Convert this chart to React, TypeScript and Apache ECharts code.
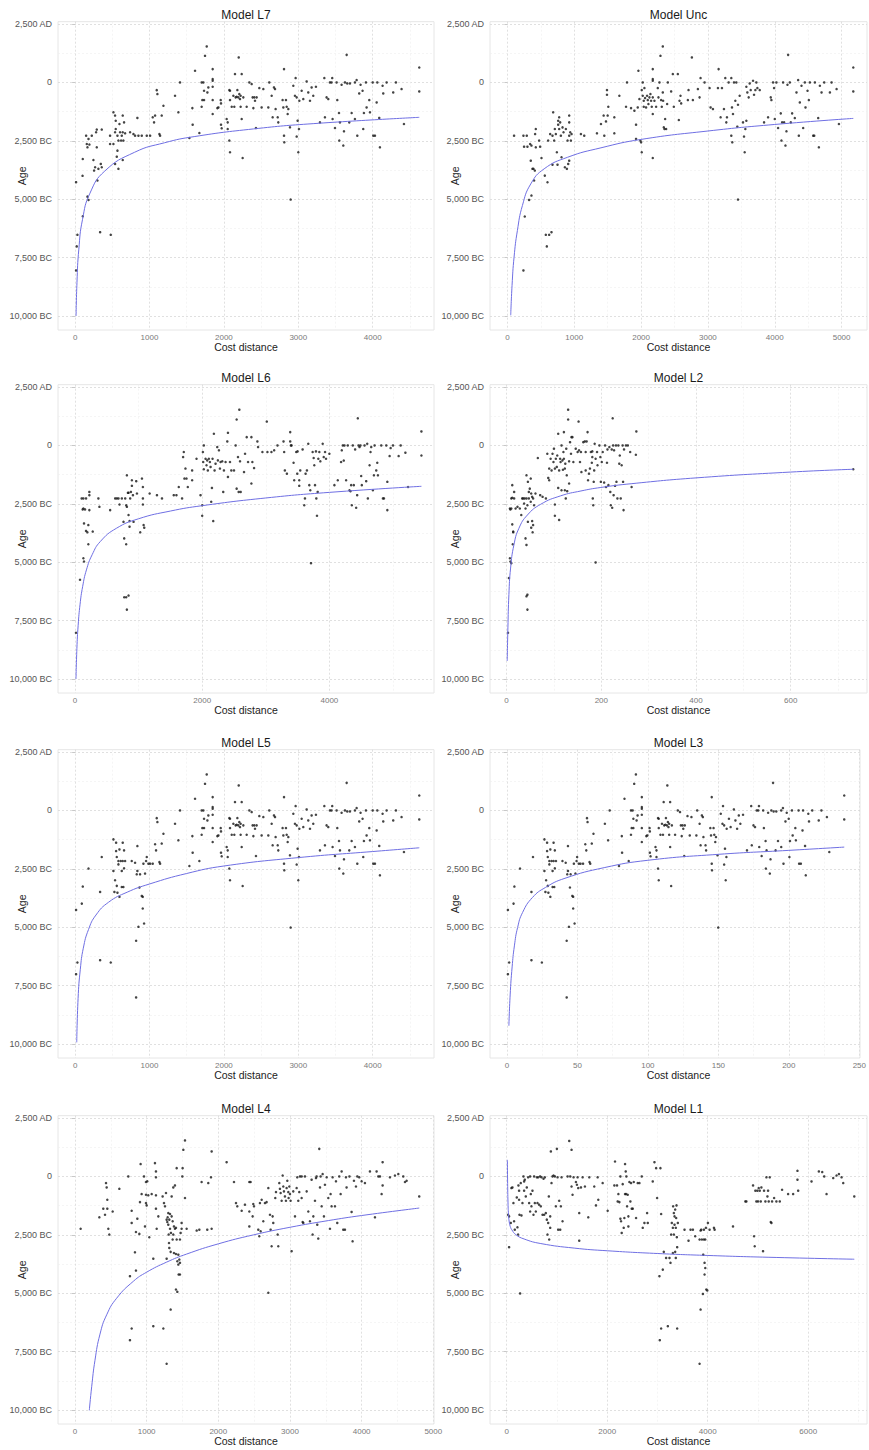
import React, { useEffect, useRef } from "react";
import * as echarts from "echarts";

// ---------- panel meta ----------
const titles = ["Model L7", "Model Unc", "Model L6", "Model L2", "Model L5", "Model L3", "Model L4", "Model L1"];
const xMins = [-230, -260, -267, -35, -230, -12, -237, -333];
const xMaxs = [4824, 5380, 5645, 761, 4824, 250.5, 5010, 7170];
const xTicks = [
  [0, 1000, 2000, 3000, 4000],
  [0, 1000, 2000, 3000, 4000, 5000],
  [0, 2000, 4000],
  [0, 200, 400, 600],
  [0, 1000, 2000, 3000, 4000],
  [0, 50, 100, 150, 200, 250],
  [0, 1000, 2000, 3000, 4000, 5000],
  [0, 2000, 4000, 6000],
];
const xMinorTicks = [
  [500, 1500, 2500, 3500, 4500],
  [500, 1500, 2500, 3500, 4500],
  [1000, 3000, 5000],
  [100, 300, 500, 700],
  [500, 1500, 2500, 3500, 4500],
  [25, 75, 125, 175, 225],
  [500, 1500, 2500, 3500, 4500],
  [1000, 3000, 5000, 7000],
];
const yTicks = [-10000, -7500, -5000, -2500, 0, 2500];
const yMinorTicks = [-8750, -6250, -3750, -1250, 1250];
const yMin = -10600;
const yMax = 2600;

// ---------- data: [cost distance, age (negative = BC)] ----------
const l7Left = [[13,-4270],[22,-7020],[31,-6525],[13,-8050],[103,-5730],[100,-4000],[103,-3280],[148,-2280],[157,-2635],[166,-2780],[180,-2420],[192,-2660],[166,-4890],[180,-5030],[224,-2280],[246,-3320],[255,-3775],[269,-3630],[282,-2135],[291,-2020],[291,-2780],[300,-4200],[313,-3700],[336,-6410],[345,-3490],[358,-2020],[358,-3630],[470,-2280],[470,-2635],[479,-6525],[515,-1280],[515,-2635],[537,-2135],[537,-1420],[546,-1640],[546,-1995],[537,-3490],[560,-3180],[569,-2280],[569,-2920],[582,-2490],[582,-3700],[596,-1780],[604,-2135],[618,-2490],[627,-2280],[640,-1420],[640,-2135],[649,-2490],[658,-1710],[672,-2180],[640,-3320],[739,-2135],[784,-2210],[806,-2280],[837,-1520],[851,-2280],[896,-2280],[963,-2280],[1008,-2280],[1043,-1495],[1061,-1710],[1075,-1420]];

const l5l7Shared = [[1097,-330],[1106,-500],[1133,-2210],[1142,-2280],[1164,-1420],[1187,-1000],[1343,-570],[1388,-1280],[1410,0],[1536,-2380],[1576,-1100],[1580,-1810],[1612,500],[1670,-2165],[1701,0],[1710,-755],[1701,-1040],[1724,0],[1733,-356],[1746,1140],[1733,-755],[1769,1540],[1778,-427],[1791,-214],[1849,570],[1849,142],[1849,71],[1849,-185],[1849,-755],[1849,-1353],[1912,-1100],[1926,-1070],[1957,-755],[1961,-1810],[1970,-1966],[1961,-897],[2037,-1567],[2051,-1710],[2051,-1995],[2073,-328],[2082,-356],[2073,-2490],[2082,-2990],[2082,-755],[2105,-1040],[2127,-570],[2140,-1040],[2149,356],[2158,-640],[2172,-612],[2181,-328],[2194,-640],[2199,1070],[2207,-500],[2216,-712],[2225,-570],[2225,-1040],[2239,356],[2239,-1567],[2252,-3235],[2261,-640],[2306,-1040],[2342,0],[2373,-71],[2386,-640],[2396,-1100],[2409,-640],[2418,-783],[2431,-1950],[2440,-640],[2476,-242],[2507,-1070],[2530,-285],[2597,-1070],[2610,0],[2642,-570],[2655,-1495],[2673,-214],[2687,-285],[2695,-1140],[2723,-1495],[2731,-1710],[2789,-755],[2808,570],[2799,-1070],[2808,-2280],[2812,-2565],[2834,-755],[2844,-1040],[2857,-1353],[2866,-1140],[2888,-1923],[2897,-5015],[2933,-142],[2964,185],[2955,-570],[2978,-640],[2978,-2320],[2991,-1638],[3000,-2990],[3009,-1995],[3014,-783],[3045,-356],[3067,-712],[3112,43],[3134,-427],[3157,-783],[3179,-214],[3201,-570],[3237,-185],[3291,-1710],[3350,185],[3358,-1495],[3380,-640],[3403,-712],[3425,0],[3447,0],[3456,185],[3461,-1567],[3493,-1950],[3515,0],[3524,-755],[3547,-1310],[3551,-2490],[3560,-1710],[3582,-100],[3605,-2705],[3614,-2095],[3627,0],[3650,1180],[3658,-43],[3685,-1710],[3694,-43],[3717,-1310],[3761,0],[3784,100],[3793,-2280],[3761,-1567],[3819,-470],[3837,-100],[3864,-356],[3873,-1995],[3882,-1310],[3909,0],[3918,-1070],[3954,-755],[3963,-1280],[4000,0],[4008,-2280],[4030,-2280],[4053,-855],[4062,0],[4088,-1520],[4097,-2780],[4133,-142],[4142,-470],[4187,0],[4276,-427],[4312,0],[4388,-285],[4420,-1780],[4626,640],[4626,-385]];

const l5Left = [[13,-4260],[31,-6510],[13,-7010],[90,-3990],[103,-3260],[180,-2490],[336,-3490],[336,-6410],[358,-1995],[479,-6510],[515,-2590],[515,-1240],[528,-3490],[537,-2990],[551,-1380],[551,-1740],[560,-1995],[560,-3230],[569,-3520],[582,-2310],[582,-2165],[596,-3700],[596,-1670],[613,-2165],[627,-2590],[627,-3280],[640,-1380],[640,-2165],[649,-3280],[658,-2480],[658,-1710],[672,-2165],[761,-2165],[806,-2240],[820,-5580],[828,-2735],[837,-2590],[837,-1525],[820,-8005],[851,-4985],[864,-3300],[873,-2735],[896,-3660],[909,-3700],[918,-2280],[909,-4200],[927,-4840],[940,-2705],[954,-2165],[963,-1995],[985,-2280],[1008,-2280],[1043,-2280],[1075,-1450],[1088,-1710]];

const uncPoints = [[100,-2280],[240,-2280],[250,-2750],[240,-8050],[260,-5740],[290,-2280],[300,-2750],[325,-5030],[340,-2635],[350,-3350],[360,-2705],[360,-4845],[375,-3700],[390,-3700],[400,-4200],[410,-3775],[425,-1995],[415,-2210],[425,-2780],[475,-2490],[490,-2750],[510,-3235],[560,-3990],[575,-6525],[590,-7020],[600,-4275],[610,-2490],[625,-6525],[640,-2210],[660,-6410],[675,-2280],[675,-3520],[685,-1280],[700,-2490],[710,-1995],[725,-2210],[740,-2990],[750,-3520],[760,-1640],[760,-1810],[775,-1495],[775,-1995],[790,-1710],[800,-2280],[810,-3205],[825,-1925],[840,-2135],[860,-3630],[875,-1995],[890,-3700],[900,-2490],[910,-3490],[925,-1420],[925,-1710],[925,-2280],[940,-2135],[950,-2490],[960,-2210],[925,-3350],[1100,-2210],[1150,-2280],[1340,-2180],[1400,-1780],[1440,-1420],[1450,-2280],[1475,-1670],[1490,-328],[1490,-527],[1500,-1420],[1510,-1040],[1600,-2180],[1600,-1495],[1675,-570],[1790,0],[1775,-1040],[1850,-1100],[1900,-1210],[1925,-1810],[1925,-2420],[1960,500],[1950,-1070],[1975,-712],[1990,-2490],[2000,-2565],[2010,-2990],[2010,-328],[2025,0],[2025,-570],[2040,-783],[2040,-1040],[2050,-242],[2060,-670],[2075,-1070],[2090,-570],[2100,-755],[2110,-925],[2125,-640],[2140,-500],[2150,-783],[2160,-1040],[2175,570],[2175,142],[2175,71],[2175,-640],[2175,-1353],[2175,-3235],[2200,-783],[2225,-1040],[2250,-242],[2260,-640],[2275,0],[2290,1140],[2300,-755],[2310,-1040],[2325,-427],[2325,1540],[2330,-783],[2340,-1923],[2350,-1995],[2360,-1567],[2375,-1995],[2390,-925],[2400,0],[2450,-385],[2475,356],[2490,-1040],[2550,356],[2565,-1610],[2575,-783],[2590,-570],[2600,-897],[2710,-328],[2700,-755],[2760,1070],[2775,-755],[2850,-285],[2875,-640],[2890,185],[2950,0],[3025,-242],[3040,-1070],[3075,-1140],[3150,-242],[3160,570],[3190,-1495],[3210,-242],[3240,-1140],[3260,185],[3275,-1710],[3285,-1495],[3310,0],[3350,185],[3350,-2280],[3360,-1070],[3365,-2565],[3375,-1353],[3390,0],[3410,-783],[3425,0],[3440,-1895],[3450,-5015],[3450,-955],[3475,-570],[3525,-1710],[3540,-2320],[3550,-2990],[3560,-1995],[3575,-1640],[3575,-185],[3590,-427],[3610,-640],[3625,-43],[3640,-328],[3675,71],[3690,-527],[3710,-328],[3725,0],[3740,-242],[3775,-328],[3840,-1710],[3900,-1495],[3940,-640],[3950,-755],[3975,0],[3990,-242],[4000,-1567],[4025,0],[4050,-1950],[4090,-1325],[4100,-2490],[4110,-1710],[4125,0],[4140,-1710],[4160,-2705],[4175,-2095],[4190,-100],[4200,1180],[4225,0],[4240,-1710],[4260,-1325],[4300,-1525],[4325,-427],[4350,100],[4360,-2280],[4375,-855],[4400,-142],[4425,-1950],[4450,0],[4460,-1070],[4490,-356],[4510,-755],[4525,0],[4575,-2280],[4590,-2280],[4600,0],[4650,-1525],[4660,-2780],[4675,-142],[4700,-427],[4740,0],[4825,-427],[4850,0],[4925,-285],[4960,-1780],[5175,640],[5175,-385]];

const l6Points = [[16,-8020],[79,-5750],[105,-2270],[121,-2740],[132,-2700],[132,-4830],[142,-4970],[132,-2270],[142,-3340],[158,-2740],[174,-2270],[174,-3660],[195,-3720],[210,-3410],[210,-4230],[226,-2770],[226,-1990],[226,-2130],[279,-3690],[368,-2270],[384,-2630],[553,-2770],[632,-2270],[658,-2270],[684,-2270],[700,-2530],[737,-2270],[763,-3270],[774,-3980],[790,-2270],[805,-2560],[805,-4230],[816,-1280],[816,-2630],[832,-2030],[842,-2980],[842,-2030],[858,-3240],[858,-3480],[868,-2270],[879,-1990],[895,-1490],[895,-1730],[911,-2130],[921,-3270],[774,-6500],[805,-6500],[842,-6430],[816,-7030],[963,-1530],[974,-2060],[1026,-3720],[1053,-1420],[1068,-2270],[1068,-1780],[1068,-2530],[1079,-3410],[1089,-3520],[1174,-2060],[1289,-2130],[1368,-2270],[1553,-2130],[1595,-2130],[1632,-1780],[1684,-2270],[1700,-500],[1711,-280],[1721,-1420],[1737,-990],[1753,-1420],[1774,-1780],[1842,-1070],[1842,-1490],[1911,-570],[1974,-2130],[2000,-2560],[2000,-3010],[2011,-280],[2026,0],[2016,-710],[2026,-1020],[2053,-570],[2068,-850],[2079,-640],[2089,-1070],[2105,-570],[2121,-710],[2132,-920],[2142,-2410],[2153,-1820],[2163,-570],[2174,-3240],[2184,500],[2195,-1070],[2210,-780],[2237,-70],[2247,-640],[2263,-210],[2279,-990],[2289,-710],[2316,-680],[2331,-1990],[2342,-1070],[2368,-710],[2395,170],[2405,540],[2405,-1350],[2437,-710],[2458,-1070],[2500,-1070],[2526,0],[2542,-1850],[2542,1110],[2563,-500],[2574,-1990],[2584,1530],[2595,-680],[2605,-1990],[2658,-1140],[2674,-355],[2700,355],[2721,-710],[2774,355],[2774,-1630],[2789,-710],[2816,-970],[2868,170],[2879,-70],[2947,-280],[3016,1020],[3026,-280],[3089,-280],[3132,-210],[3184,0],[3279,170],[3289,-280],[3300,-1070],[3332,-1210],[3384,570],[3384,170],[3395,0],[3405,0],[3437,-740],[3447,-1490],[3479,-280],[3495,-1210],[3500,-255],[3526,-1490],[3526,-1730],[3542,-1070],[3579,-170],[3605,-2560],[3616,-2270],[3626,-1210],[3647,-1070],[3668,70],[3684,-1700],[3700,-1920],[3711,-5040],[3737,-280],[3753,-540],[3763,-850],[3774,-1700],[3789,-255],[3795,-2270],[3805,-3010],[3816,-1990],[3826,-570],[3842,-280],[3858,-680],[3895,70],[3911,-500],[3932,-280],[3947,-570],[4000,-355],[4079,-1700],[4132,-1490],[4184,-710],[4195,-210],[4211,0],[4226,-650],[4237,0],[4263,-1490],[4289,0],[4316,-1920],[4332,-1960],[4342,-1700],[4353,-2560],[4368,0],[4384,-1700],[4405,-170],[4421,-2670],[4437,-2130],[4447,1160],[4458,0],[4474,-70],[4489,0],[4500,-1310],[4510,-1700],[4553,0],[4579,-1530],[4595,70],[4605,-2270],[4632,-850],[4647,-280],[4658,-70],[4684,-1920],[4700,-1280],[4711,0],[4737,-1070],[4753,-740],[4763,-1280],[4816,0],[4842,-2270],[4858,-2270],[4895,0],[4911,-2770],[4911,-1560],[4947,-455],[4963,-115],[5000,0],[5089,-455],[5121,0],[5195,-310],[5237,-1780],[5447,600],[5447,-430]];

const l2Points = [[3,-8020],[5,-5680],[7,-4830],[8,-4970],[10,-5040],[7,-2700],[8,-2740],[10,-2700],[10,-2270],[12,-2240],[12,-1700],[12,-3380],[14,-3690],[14,-3720],[13,-4230],[16,-1990],[16,-2270],[19,-2700],[23,-2630],[28,-2700],[31,-2980],[33,-2270],[35,-2270],[37,-2490],[38,-2270],[40,-2700],[40,-3980],[42,-2270],[42,-1280],[42,-4260],[42,-6460],[44,-6390],[44,-7030],[44,-2560],[45,-3270],[45,-1560],[47,-1990],[47,-2270],[49,-1850],[51,-1420],[51,-2410],[52,-2060],[52,-3520],[54,-2200],[54,-3240],[55,-3720],[56,-3410],[56,-2270],[58,-2560],[61,-2060],[66,-540],[71,-2130],[76,-2200],[83,-2270],[86,-355],[88,-1390],[90,-1490],[90,-990],[93,-570],[95,-1070],[97,-355],[99,-710],[100,-140],[102,-2530],[102,-3010],[102,-990],[104,-570],[106,-920],[107,-430],[109,-1820],[109,500],[111,-3190],[111,-1070],[113,-570],[114,-710],[116,0],[116,-1920],[118,-640],[119,-1040],[120,-280],[121,570],[121,-570],[123,-990],[123,-1920],[124,-780],[125,-2270],[126,-140],[127,-1280],[128,-1960],[130,1110],[130,1530],[132,-680],[132,-1630],[134,140],[136,-355],[137,355],[139,355],[141,-710],[146,-140],[150,-280],[152,1020],[153,-210],[155,-710],[157,-280],[158,-1140],[162,140],[165,170],[167,-1070],[167,-280],[169,170],[171,570],[172,-1490],[174,-1210],[176,-990],[178,-280],[180,-740],[181,-500],[181,-255],[182,-2270],[183,-2560],[184,-1560],[185,-1070],[186,70],[188,-5010],[188,-570],[191,-280],[192,-850],[196,0],[198,-500],[199,-1560],[201,-710],[203,-280],[206,-1590],[208,0],[210,-1780],[212,-740],[213,-170],[215,-1700],[217,-70],[219,-1990],[220,-2560],[222,-170],[223,-2670],[224,1160],[225,0],[226,-2130],[227,-210],[229,-1730],[231,0],[232,-1560],[234,-2270],[236,0],[238,-780],[239,-430],[241,-2270],[243,-850],[245,0],[246,-1560],[247,-2770],[248,-170],[252,0],[256,0],[261,-280],[264,-1780],[273,-400],[274,600],[732,-1020]];

const l3Points = [[0.7,-4260],[1.6,-6510],[0.7,-7010],[4.7,-3990],[5.3,-3260],[9.3,-2490],[17.4,-3490],[17.4,-6410],[18.5,-1995],[24.8,-6510],[26.6,-2590],[26.6,-1240],[27.3,-3490],[27.8,-2990],[28.5,-1380],[28.5,-1740],[29,-1995],[29,-3230],[29.4,-3520],[30.1,-2310],[30.1,-2165],[30.8,-3700],[30.8,-1670],[31.7,-2165],[32.4,-2590],[32.4,-3280],[33.1,-1380],[33.1,-2165],[33.6,-3280],[34,-2480],[34,-1710],[34.8,-2165],[39.4,-2165],[41.7,-2240],[42.4,-5580],[42.8,-2735],[43.3,-2590],[43.3,-1525],[42.4,-8005],[44,-4985],[44.7,-3300],[45.2,-2735],[46.4,-3660],[47,-3700],[47.5,-2280],[47,-4200],[48,-4840],[48.6,-2705],[49.4,-2165],[49.8,-1995],[51,-2280],[52.2,-2280],[54,-2280],[55.6,-1450],[56.3,-1710],
[56.8,-330],[57.2,-500],[58.6,-2210],[59.1,-2280],[60.2,-1420],[61.4,-1000],[69.5,-570],[71.8,-1280],[72.9,0],[79.5,-2380],[81.5,-1100],[81.7,-1810],[83.4,500],[86.4,-2165],[88,0],[88.5,-755],[88,-1040],[89.2,0],[89.7,-356],[90.3,1140],[89.7,-755],[91.5,1540],[92,-427],[92.7,-214],[95.7,570],[95.7,142],[95.7,71],[95.7,-185],[95.7,-755],[95.7,-1353],[98.9,-1100],[99.6,-1070],[101.2,-755],[101.4,-1810],[101.9,-1966],[101.4,-897],[105.4,-1567],[106.1,-1710],[106.1,-1995],[107.2,-328],[107.7,-356],[107.2,-2490],[107.7,-2990],[107.7,-755],[108.9,-1040],[110,-570],[110.7,-1040],[111.2,356],[111.6,-640],[112.4,-612],[112.8,-328],[113.5,-640],[113.8,1070],[114.2,-500],[114.6,-712],[115.1,-570],[115.1,-1040],[115.8,356],[115.8,-1567],[116.5,-3235],[117,-640],[119.3,-1040],[121.2,0],[122.8,-71],[123.4,-640],[124,-1100],[124.6,-640],[125.1,-783],[125.8,-1950],[126.2,-640],[128.1,-242],[129.7,-1070],[130.9,-285],[134.4,-1070],[135,0],[136.7,-570],[137.4,-1495],[138.3,-214],[139,-285],[139.4,-1140],[140.9,-1495],[141.3,-1710],[144.3,-755],[145.3,570],[144.8,-1070],[145.3,-2280],[145.5,-2565],[146.6,-755],[147.1,-1040],[147.8,-1353],[148.3,-1140],[149.4,-1923],[149.9,-5015],[151.7,-142],[153.3,185],[152.9,-570],[154.1,-640],[154.1,-2320],[154.7,-1638],[155.2,-2990],[155.7,-1995],[155.9,-783],[157.5,-356],[158.7,-712],[161,43],[162.1,-427],[163.3,-783],[164.5,-214],[165.6,-570],[167.5,-185],[170.3,-1710],[173.3,185],[173.7,-1495],[174.9,-640],[176,-712],[177.2,0],[178.3,0],[178.8,185],[179,-1567],[180.7,-1950],[181.8,0],[182.3,-755],[183.5,-1310],[183.7,-2490],[184.2,-1710],[185.3,-100],[186.5,-2705],[187,-2095],[187.6,0],[188.8,1180],[189.2,-43],[190.6,-1710],[191.1,-43],[192.3,-1310],[194.6,0],[195.8,100],[196.2,-2280],[194.6,-1567],[197.6,-470],[198.5,-100],[199.9,-356],[200.4,-1995],[200.8,-1310],[202.2,0],[202.7,-1070],[204.6,-755],[205,-1280],[206.9,0],[207.3,-2280],[208.5,-2280],[209.7,-855],[210.1,0],[211.5,-1520],[212,-2780],[213.8,-142],[214.3,-470],[216.6,0],[221.2,-427],[223.1,0],[227,-285],[228.7,-1780],[239.3,640],[239.3,-385]];

const l4Points = [[79,-2240],[340,-1750],[395,-1380],[419,-1640],[433,-285],[442,-470],[451,-1380],[451,-1000],[465,-2240],[479,-2490],[526,-1500],[619,-530],[744,0],[767,-4270],[791,-1470],[791,-1990],[791,-6510],[767,-7010],[837,-3250],[851,-4030],[851,-2380],[870,-1810],[898,-2460],[907,-1100],[916,530],[930,-755],[963,0],[977,-2140],[991,-785],[991,-1140],[991,-240],[1000,-1240],[1009,-210],[1023,-810],[1037,-2605],[1070,-755],[1093,-3520],[1093,-6410],[1116,570],[1130,215],[1130,-40],[1130,-810],[1130,-1380],[1140,-2240],[1163,-1710],[1223,-855],[1233,-6510],[1242,-1140],[1256,-1280],[1270,-710],[1279,-3520],[1279,-8020],[1279,-1850],[1288,-1950],[1293,-1750],[1302,-2065],[1302,-1570],[1307,-2490],[1312,-2850],[1316,-3060],[1316,-1850],[1326,-1610],[1326,-2240],[1335,-3230],[1335,-5700],[1339,-2420],[1349,-1710],[1349,-855],[1363,-1920],[1363,-2700],[1372,-2490],[1372,-470],[1381,-2140],[1381,-3280],[1395,-385],[1395,-2240],[1409,-3320],[1409,-2200],[1409,-4840],[1419,-2700],[1419,355],[1428,-4940],[1428,-3630],[1442,-3775],[1442,-3350],[1446,-4200],[1456,-3560],[1465,-3700],[1465,-4200],[1465,-2700],[1474,-2420],[1488,-1990],[1488,-2240],[1498,0],[1502,355],[1512,1140],[1535,1540],[1535,-925],[1558,-2240],[1698,-2320],[1735,-2280],[1767,-240],[1860,-285],[1846,-2280],[1898,-40],[1907,1070],[1907,-2240],[2116,610],[2219,-240],[2247,-1140],[2265,-1280],[2326,-1470],[2372,-1210],[2433,-1500],[2433,-2140],[2433,-240],[2451,-240],[2479,-1710],[2488,-1180],[2498,-1280],[2558,-2280],[2572,-2560],[2581,-1140],[2591,-2350],[2605,-1000],[2628,-1920],[2651,-1140],[2674,-1100],[2698,-4980],[2698,-500],[2721,-1640],[2730,-2280],[2744,-2990],[2758,-1710],[2767,-1990],[2795,-925],[2805,-670],[2828,-2490],[2837,-2990],[2851,-285],[2860,-530],[2870,-710],[2884,-1040],[2898,40],[2907,-430],[2916,-640],[2930,-855],[2944,-1040],[2953,-500],[2963,-185],[2977,-670],[2981,-925],[2991,-430],[3000,-755],[3009,-1040],[3023,-3200],[3046,-640],[3070,-1710],[3093,-500],[3102,-40],[3116,-1040],[3130,-670],[3140,0],[3163,0],[3163,-925],[3177,-1950],[3186,-1990],[3209,0],[3233,-640],[3256,-1500],[3279,-1920],[3302,-140],[3316,-2490],[3326,-1710],[3349,-1040],[3363,-70],[3372,0],[3381,-2065],[3395,-2660],[3409,1180],[3419,-470],[3428,0],[3442,-1280],[3456,100],[3474,-1710],[3488,-355],[3512,-40],[3535,-925],[3558,-2240],[3567,-755],[3581,-1280],[3595,-40],[3628,-1280],[3642,-210],[3660,-1990],[3688,0],[3707,-755],[3721,215],[3744,-2280],[3767,-2280],[3781,-40],[3790,-470],[3830,0],[3860,-1520],[3874,-2780],[3893,-185],[3921,-430],[3940,0],[3967,-40],[4000,-210],[4046,-285],[4116,215],[4186,-1750],[4209,215],[4233,0],[4256,0],[4279,-755],[4293,610],[4293,-385],[4395,-40],[4465,40],[4512,100],[4581,0],[4605,-240],[4628,-185],[4804,-855]];

const l1Points = [[27,-1640],[47,-1710],[47,-3030],[80,-1990],[93,-500],[113,-470],[133,-1140],[146,-1920],[160,-2280],[200,-900],[213,-2180],[226,-2490],[233,-385],[246,-610],[246,-1000],[253,-1640],[266,-5010],[279,-285],[293,-1670],[313,-1140],[333,0],[346,-215],[346,-610],[359,-140],[379,-855],[399,-470],[426,-40],[446,-1140],[466,0],[466,-1500],[479,-755],[492,-1280],[512,-610],[532,-1640],[545,0],[559,-1140],[579,-1500],[599,-40],[612,-1140],[625,-40],[645,-1210],[665,0],[678,-1280],[692,-40],[712,-1640],[732,-100],[745,-1640],[758,-40],[778,-1570],[798,-1850],[811,-2490],[825,-1990],[838,-855],[845,-2700],[865,-1710],[865,-2200],[878,1070],[891,-285],[911,0],[931,40],[958,0],[978,-1280],[998,1180],[1011,-40],[1024,-2280],[1044,-1040],[1064,-2280],[1077,-1280],[1091,-40],[1111,-1920],[1211,0],[1244,1520],[1264,0],[1290,1140],[1290,-430],[1310,-785],[1330,-40],[1377,-240],[1397,-355],[1410,-40],[1423,-500],[1443,-1570],[1443,-2750],[1477,-470],[1510,-40],[1556,-430],[1623,-1750],[1643,-40],[1742,-430],[1776,-1240],[1809,-40],[1822,-1000],[1909,-285],[2009,-1470],[2142,-385],[2155,640],[2195,-385],[2208,-1070],[2222,-755],[2242,-1100],[2262,0],[2262,-1810],[2275,-1920],[2288,-2420],[2308,-330],[2328,-2200],[2341,-1780],[2355,-755],[2355,530],[2368,215],[2375,-755],[2381,0],[2395,-1280],[2408,-785],[2421,-1710],[2421,-2140],[2441,-240],[2461,-1070],[2474,-285],[2488,-1380],[2508,-1380],[2528,-240],[2574,-1780],[2607,-285],[2641,-285],[2687,0],[2707,-2200],[2740,-1990],[2794,-1570],[2807,-1990],[2906,-215],[2940,610],[2973,355],[2993,-925],[3039,-4270],[3059,355],[3073,-1610],[3073,-6510],[3046,-7010],[3106,-3990],[3126,-3230],[3172,-3490],[3206,-6410],[3239,-3490],[3259,-3700],[3272,-2490],[3285,-1990],[3306,-3280],[3306,-2200],[3312,-1280],[3326,-1570],[3326,-2490],[3339,-1710],[3339,-2065],[3352,-1420],[3352,-3230],[3365,-2200],[3365,-3490],[3372,-1780],[3379,-1240],[3385,-2600],[3392,-6510],[3392,-3030],[3405,-1990],[3538,-2280],[3618,-2750],[3658,-2280],[3705,-2280],[3751,-2560],[3838,-2700],[3858,-2320],[3838,-8020],[3858,-5700],[3871,-2280],[3884,-2700],[3904,-5030],[3911,-3350],[3924,-2280],[3924,-2700],[3937,-3700],[3937,-4200],[3951,-2700],[3951,-3920],[3964,-2200],[3971,-4840],[3991,-4880],[4004,-1990],[4037,-2280],[4124,-2200],[4137,-2280],[4503,-2140],[4749,-1070],[4769,-1070],[4902,-385],[4922,-2560],[4935,-2990],[4948,-610],[4968,-1070],[4988,-610],[5001,-1070],[5015,-500],[5035,-610],[5055,-1070],[5068,-470],[5101,-3200],[5121,-610],[5148,-1070],[5168,-40],[5188,-855],[5201,-610],[5214,-1070],[5234,-40],[5254,-1950],[5268,-1990],[5281,-1070],[5321,-925],[5367,-1070],[5434,-1070],[5480,-570],[5600,-755],[5700,-755],[5786,240],[5786,-140],[5800,-610],[6066,-215],[6212,215],[6279,185],[6319,0],[6365,-755],[6498,-70],[6564,40],[6611,100],[6664,-40],[6697,-285],[6917,-855]];

// ---------- fitted curves ----------
const l7Curve = [[13,-10000],[25,-8560],[50,-7140],[100,-5860],[200,-4740],[400,-3790],[800,-2990],[1200,-2585],[1600,-2320],[2400,-1990],[3200,-1765],[4626,-1495]];
const uncCurve = [[50,-9970],[70,-8690],[100,-7480],[150,-6340],[225,-5270],[350,-4345],[550,-3700],[900,-3205],[1400,-2800],[2000,-2440],[3000,-2080],[4000,-1800],[5175,-1540]];
const l6Curve = [[16,-10000],[30,-8700],[50,-7700],[80,-6800],[120,-6050],[180,-5330],[270,-4680],[400,-4110],[650,-3550],[1000,-3140],[1500,-2810],[2000,-2580],[3000,-2250],[4000,-2010],[5447,-1750]];
const l2Curve = [[1.4,-9230],[2.8,-7810],[4.9,-6390],[8.5,-5250],[15.5,-4260],[26,-3550],[44,-2980],[72,-2520],[114,-2160],[157,-1950],[199,-1800],[263,-1640],[400,-1390],[600,-1140],[732,-1020]];
const l5Curve = [[22,-9930],[40,-8050],[70,-6800],[110,-5900],[180,-5100],[280,-4480],[450,-3930],[700,-3500],[1000,-3150],[1500,-2700],[2000,-2380],[3000,-2020],[4000,-1760],[4626,-1600]];
const l3Curve = [[1.4,-9220],[2.3,-7900],[3.7,-6700],[5.3,-5800],[7.6,-5010],[11.1,-4370],[18.1,-3730],[27.3,-3300],[41.2,-2905],[69,-2450],[100,-2135],[150,-1880],[200,-1710],[239.3,-1570]];
const l4Curve = [[200,-10016],[233,-9006],[279,-7872],[349,-6752],[442,-5926],[581,-5216],[814,-4491],[1000,-4100],[1279,-3669],[1558,-3324],[2000,-2887],[2488,-2505],[3000,-2178],[3535,-1891],[4000,-1674],[4804,-1354]];
const l1Curve = [[13,710],[18,-300],[25,-1100],[35,-1620],[50,-1950],[70,-2140],[100,-2280],[180,-2490],[346,-2679],[678,-2874],[1343,-3069],[2009,-3184],[3006,-3301],[4004,-3384],[5201,-3461],[6917,-3545]];

const pointSets = [l7Left.concat(l5l7Shared), uncPoints, l6Points, l2Points, l5Left.concat(l5l7Shared), l3Points, l4Points, l1Points];
const curves = [l7Curve, uncCurve, l6Curve, l2Curve, l5Curve, l3Curve, l4Curve, l1Curve];

// ---------- layout ----------
const colLeft = [58, 490];
const colWidth = [376, 377];
const rowOff = [0, 363, 728, 1094];
const plotTop = 21.7;
const plotH = 308.3;
const FONT = "'Liberation Sans', Arial, Helvetica, sans-serif";

const commas = (n: number) => String(n).replace(/\B(?=(\d{3})+(?!\d))/g, ",");
const fmtAge = (v: number) => {
  if (v === 0) return "0";
  const a = commas(Math.abs(Math.round(v)));
  return v > 0 ? `${a} AD` : `${a} BC`;
};

function buildOption() {
  const grid: any[] = [];
  const xAxis: any[] = [];
  const yAxis: any[] = [];
  const series: any[] = [];
  const graphic: any[] = [];
  titles.forEach((title, i) => {
    const col = i % 2;
    const row = Math.floor(i / 2);
    const left = colLeft[col];
    const top = plotTop + rowOff[row];
    const w = colWidth[col];
    grid.push({ left, top, width: w, height: plotH, show: true, borderColor: "#e6e6e6", borderWidth: 1, backgroundColor: "transparent" });
    xAxis.push({
      gridIndex: i, type: "value", min: xMins[i], max: xMaxs[i], position: "bottom",
      axisLine: { show: false },
      axisTick: { show: false, customValues: xTicks[i] },
      axisLabel: { customValues: xTicks[i], fontSize: 8, color: "#7a7a7a", margin: 3, fontFamily: FONT, formatter: (v: number) => String(v) },
      splitLine: { show: true, lineStyle: { color: "#d8d8d8", width: 0.8, type: [2, 2] } },
    });
    xAxis.push({
      gridIndex: i, type: "value", min: xMins[i], max: xMaxs[i], position: "top",
      axisLine: { show: false },
      axisTick: { show: false, customValues: xMinorTicks[i] },
      axisLabel: { show: false },
      splitLine: { show: true, lineStyle: { color: "#efefef", width: 0.6, type: [2, 2] } },
    });
    yAxis.push({
      gridIndex: i, type: "value", min: yMin, max: yMax, position: "left",
      axisLine: { show: false },
      axisTick: { show: true, length: 3, customValues: yTicks, lineStyle: { color: "#c8c8c8" } },
      axisLabel: { customValues: yTicks, fontSize: 9, color: "#555", margin: 6, fontFamily: FONT, formatter: fmtAge },
      splitLine: { show: true, lineStyle: { color: "#d8d8d8", width: 0.8, type: [2, 2] } },
    });
    yAxis.push({
      gridIndex: i, type: "value", min: yMin, max: yMax, position: "right",
      axisLine: { show: false },
      axisTick: { show: false, customValues: yMinorTicks },
      axisLabel: { show: false },
      splitLine: { show: true, lineStyle: { color: "#efefef", width: 0.6, type: [2, 2] } },
    });
    series.push({
      type: "scatter", xAxisIndex: 2 * i, yAxisIndex: 2 * i, data: pointSets[i],
      symbol: "circle", symbolSize: 2.5, itemStyle: { color: "#151515" }, silent: true, z: 3,
    });
    series.push({
      type: "line", xAxisIndex: 2 * i, yAxisIndex: 2 * i, data: curves[i],
      showSymbol: false, smooth: 0.5,
      lineStyle: { color: "#6f6fe3", width: 1 }, silent: true, z: 4,
    });
    const cx = left + w / 2;
    graphic.push({
      type: "text", x: cx, y: 15 + rowOff[row], silent: true,
      style: { text: title, align: "center", verticalAlign: "middle", fontSize: 12, fontFamily: FONT, fill: "#1a1a1a" },
    });
    graphic.push({
      type: "text", x: cx, y: 347 + rowOff[row], silent: true,
      style: { text: "Cost distance", align: "center", verticalAlign: "middle", fontSize: 10.5, fontFamily: FONT, fill: "#222" },
    });
    graphic.push({
      type: "text", x: col === 0 ? 22 : 455, y: top + plotH / 2, rotation: Math.PI / 2, silent: true,
      style: { text: "Age", align: "center", verticalAlign: "middle", fontSize: 10.5, fontFamily: FONT, fill: "#222" },
    });
  });
  return { animation: false, backgroundColor: "#ffffff", grid, xAxis, yAxis, series, graphic };
}

export default function App() {
  const ref = useRef<HTMLDivElement>(null);
  useEffect(() => {
    document.body.style.margin = "0";
    if (!ref.current) return;
    const chart = echarts.init(ref.current, null, { renderer: "svg", width: 869, height: 1450 });
    chart.setOption(buildOption() as any);
    return () => chart.dispose();
  }, []);
  return <div ref={ref} style={{ position: "absolute", left: 0, top: 0, width: 869, height: 1450 }} />;
}
